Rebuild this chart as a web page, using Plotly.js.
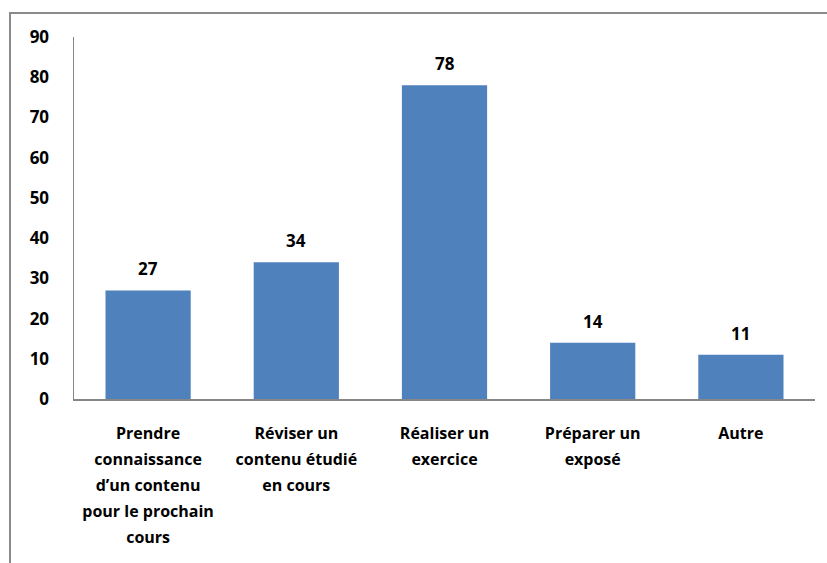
<!DOCTYPE html>
<html>
<head>
<meta charset="utf-8">
<script src="https://cdn.plot.ly/plotly-3.0.1.min.js"></script>
<style>
  html, body { margin: 0; padding: 0; background: #ffffff; }
  #wrap { position: relative; width: 827px; height: 563px; overflow: hidden; }
  #chart { position: absolute; left: 0; top: 0; width: 827px; height: 563px; }
  #frame { position: absolute; left: 9px; top: 12px; width: 840px; height: 600px;
           border: 2px solid #8a8a8a; pointer-events: none; box-sizing: border-box; }
</style>
</head>
<body>
<div id="wrap">
  <div id="chart"></div>
  <div id="frame"></div>
</div>
<script>
const categories = [
  "Prendre connaissance d\u2019un contenu pour le prochain cours",
  "R\u00e9viser un contenu \u00e9tudi\u00e9 en cours",
  "R\u00e9aliser un exercice",
  "Pr\u00e9parer un expos\u00e9",
  "Autre"
];
const tickLines = [
  ["Prendre", "connaissance", "d\u2019un contenu", "pour le prochain", "cours"],
  ["R\u00e9viser un", "contenu \u00e9tudi\u00e9", "en cours"],
  ["R\u00e9aliser un", "exercice"],
  ["Pr\u00e9parer un", "expos\u00e9"],
  ["Autre"]
];
const values = [27, 34, 78, 14, 11];
const yTicks = [0, 10, 20, 30, 40, 50, 60, 70, 80, 90];

const FONT = "'Open Sans', Lato, sans-serif";
const tickText = tickLines.map(lines =>
  lines.map(l => '<span style="font-size:16px">' + l + '</span>').join('<br>')
);

const trace = {
  type: 'bar',
  x: categories,
  y: values,
  marker: { color: '#4F81BD', line: { width: 0 } },
  hoverinfo: 'x+y'
};

const annotations = categories.map((c, i) => ({
  x: c, y: values[i], xref: 'x', yref: 'y',
  text: '<b>' + values[i] + '</b>',
  showarrow: false, yanchor: 'bottom', yshift: 8,
  font: { family: FONT, size: 17, color: '#000000' }
}));

const layout = {
  width: 827, height: 563,
  margin: { l: 74, r: 12, t: 37, b: 164 },
  paper_bgcolor: '#ffffff', plot_bgcolor: '#ffffff',
  showlegend: false,
  bargap: 0.425,
  font: { family: FONT, color: '#000000' },
  xaxis: {
    type: 'category',
    tickvals: categories,
    ticktext: tickText,
    tickangle: 0,
    tickfont: { family: FONT, size: 20, color: '#000000', weight: 'bold' },
    showline: true, linecolor: '#868686', linewidth: 1.5,
    ticks: '', showgrid: false, zeroline: false,
    ticklabelstandoff: 14
  },
  yaxis: {
    range: [0, 90],
    tickvals: yTicks,
    ticktext: yTicks.map(String),
    tickfont: { family: FONT, size: 17, color: '#000000', weight: 'bold' },
    showline: true, linecolor: '#868686', linewidth: 1.5,
    ticks: '', showgrid: false, zeroline: false,
    ticklabelstandoff: 20
  },
  annotations: annotations
};

Plotly.newPlot('chart', [trace], layout, { displayModeBar: false, staticPlot: true });
</script>
</body>
</html>
